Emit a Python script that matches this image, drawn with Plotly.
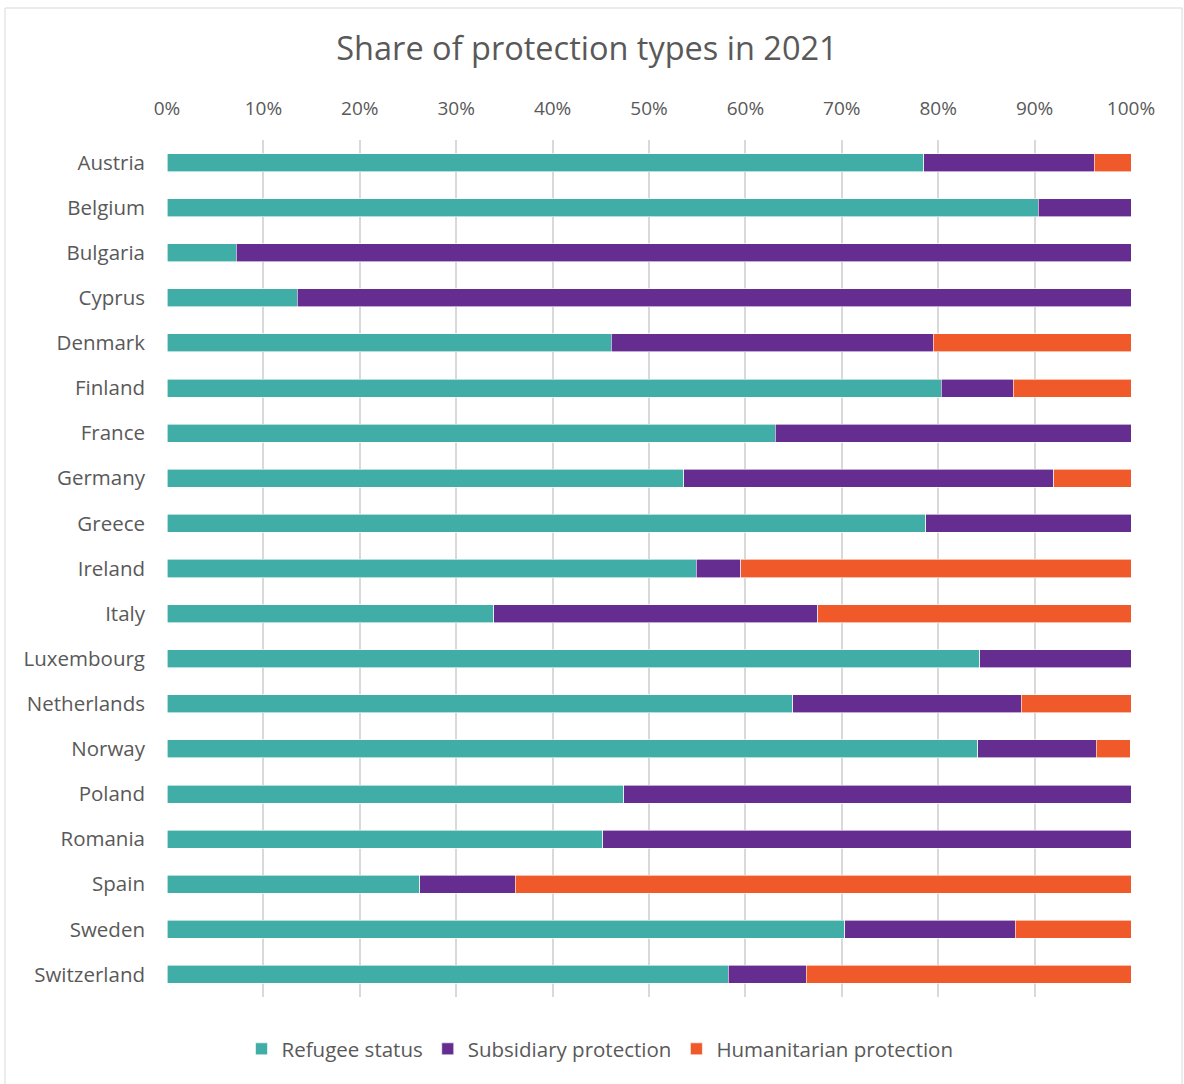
import plotly.graph_objects as go

countries = ["Austria", "Belgium", "Bulgaria", "Cyprus", "Denmark", "Finland", "France",
             "Germany", "Greece", "Ireland", "Italy", "Luxembourg", "Netherlands", "Norway",
             "Poland", "Romania", "Spain", "Sweden", "Switzerland"]

refugee = [78.5, 90.4, 7.2, 13.5, 46.1, 80.3, 63.1, 53.6, 78.7, 54.9, 33.9, 84.3, 64.9,
           84.1, 47.4, 45.2, 26.2, 70.3, 58.2]
subsidiary = [17.7, 9.6, 92.8, 86.5, 33.4, 7.5, 36.9, 38.4, 21.3, 4.6, 33.6, 15.7, 23.7,
              12.3, 52.6, 54.8, 9.9, 17.7, 8.1]
humanitarian = [3.8, 0.0, 0.0, 0.0, 20.5, 12.2, 0.0, 8.0, 0.0, 40.5, 32.5, 0.0, 11.4,
                3.5, 0.0, 0.0, 63.9, 12.0, 33.7]

series = [
    ("Refugee status", refugee, "#41ADA7"),
    ("Subsidiary protection", subsidiary, "#652D8F"),
    ("Humanitarian protection", humanitarian, "#F05A2A"),
]

W, H = 1184, 1084
L, R, T, B = 167, 53, 140, 87
pw, ph = W - L - R, H - T - B

def px_x(p):
    return (p - L) / pw

def px_y(p):
    return 1 - (p - T) / ph

fig = go.Figure()
for name, vals, color in series:
    fig.add_trace(go.Bar(
        y=countries, x=[v / 100 for v in vals], name=name, orientation="h",
        marker=dict(color=color, line=dict(width=0.6, color="white")),
    ))

fig.update_layout(
    width=W, height=H,
    barmode="stack", bargap=0.6,
    plot_bgcolor="white", paper_bgcolor="white",
    margin=dict(l=L, r=R, t=T, b=B, autoexpand=False),
    font=dict(family="Open Sans", color="#595959", size=19),
    title=dict(text="Share of protection types in 2021", x=587 / W, xref="container",
               xanchor="center", y=1 - 49 / H, yanchor="middle",
               font=dict(size=32.5, color="#595959", family="Open Sans")),
    xaxis=dict(side="top", range=[0, 1], tickvals=[i / 10 for i in range(11)],
               tickformat=".0%", showgrid=True, gridcolor="#D9D9D9", gridwidth=1.5,
               zeroline=False, showline=False, ticks="", ticklabelstandoff=20,
               tickfont=dict(size=19), fixedrange=True),
    yaxis=dict(autorange="reversed", showgrid=False, zeroline=False, ticks="",
               ticklabelstandoff=21, tickfont=dict(size=20.5), fixedrange=True),
    legend=dict(orientation="h", x=px_x(600), xanchor="center",
                y=px_y(1049), yanchor="middle",
                font=dict(size=20.5, color="#595959"), traceorder="normal",
                itemwidth=30),
    shapes=[dict(type="rect", xref="paper", yref="paper",
                 x0=px_x(5), x1=px_x(1182), y0=px_y(1090), y1=px_y(8),
                 line=dict(color="#D9D9D9", width=1), layer="below")],
)

fig.write_html("out.html")
